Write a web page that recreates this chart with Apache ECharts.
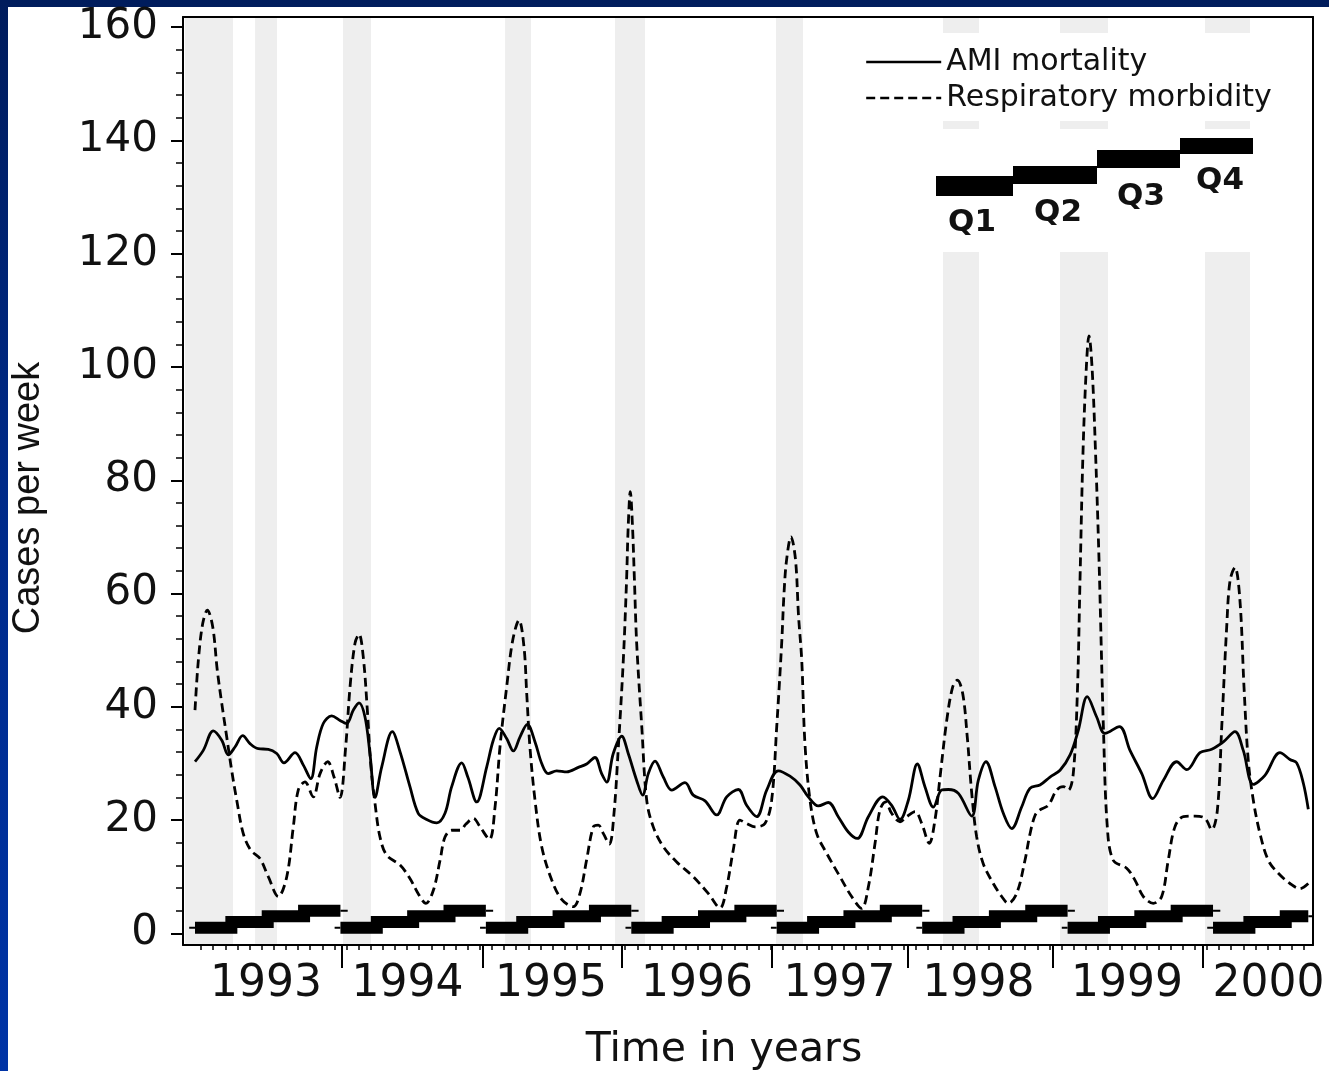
<!DOCTYPE html>
<html>
<head>
<meta charset="utf-8">
<script src="https://cdn.jsdelivr.net/npm/echarts@6/dist/echarts.min.js"></script>
<style>
  html, body { margin: 0; padding: 0; width: 1329px; height: 1071px; overflow: hidden;
    background: linear-gradient(180deg, #001c5c 0%, #002a88 45%, #0034a6 100%); }
  #panel { position: absolute; left: 8px; top: 7px; right: 0; bottom: 0; background: #ffffff; }
  #chart { position: absolute; left: 0; top: 0; width: 1329px; height: 1071px; }
</style>
</head>
<body>
<div id="panel"></div>
<div id="chart"></div>
<script>
const amiMortality = [
  [1993.000,30.3],[1993.057,32.3],[1993.126,35.75],[1993.184,34.1],[1993.229,31.5],[1993.275,32.9],
  [1993.328,34.9],[1993.378,33.5],[1993.435,32.6],[1993.504,32.5],[1993.562,31.75],[1993.612,30.1],
  [1993.688,31.9],[1993.745,29.7],[1993.796,27.3],[1993.837,32.9],[1993.882,37.05],[1993.940,38.4],
  [1993.997,37.6],[1994.043,37.05],[1994.088,39.4],[1994.128,40.7],[1994.169,38.2],[1994.203,31.75],
  [1994.238,24.0],[1994.284,29.4],[1994.357,35.6],[1994.410,32.05],[1994.478,25.9],[1994.535,21.2],
  [1994.593,20.1],[1994.662,19.5],[1994.719,21.2],[1994.765,25.9],[1994.834,30.1],[1994.877,27.5],
  [1994.937,23.2],[1995.006,29.4],[1995.051,34.1],[1995.092,36.2],[1995.143,34.4],[1995.189,32.2],
  [1995.235,34.7],[1995.285,36.9],[1995.338,33.8],[1995.384,30.0],[1995.429,28.2],[1995.487,28.7],
  [1995.556,28.5],[1995.636,29.3],[1995.693,29.9],[1995.750,31.05],[1995.796,28.2],[1995.831,26.7],
  [1995.876,31.75],[1995.934,34.8],[1995.979,31.75],[1996.037,27.0],[1996.078,24.4],[1996.117,28.2],
  [1996.163,30.4],[1996.220,27.6],[1996.278,25.3],[1996.369,26.6],[1996.426,24.4],[1996.507,23.4],
  [1996.587,20.9],[1996.656,24.1],[1996.736,25.4],[1996.793,22.6],[1996.862,20.6],[1996.931,25.3],
  [1997.011,28.7],[1997.091,27.75],[1997.160,26.2],[1997.217,24.1],[1997.286,22.5],[1997.355,23.1],
  [1997.423,20.6],[1997.492,17.9],[1997.554,16.75],[1997.630,20.6],[1997.729,24.1],[1997.790,22.6],
  [1997.848,20.1],[1997.905,23.5],[1997.967,29.9],[1998.019,25.9],[1998.077,22.3],[1998.134,25.3],
  [1998.180,25.4],[1998.249,24.7],[1998.341,20.7],[1998.386,27.0],[1998.439,30.3],[1998.501,25.9],
  [1998.558,21.2],[1998.616,18.5],[1998.684,22.3],[1998.741,25.6],[1998.810,26.2],[1998.879,27.6],
  [1998.948,28.8],[1999.017,31.5],[1999.074,35.9],[1999.135,41.8],[1999.200,38.2],[1999.257,35.3],
  [1999.356,36.5],[1999.429,32.3],[1999.510,28.2],[1999.585,23.8],[1999.658,27.0],[1999.750,30.3],
  [1999.819,28.9],[1999.910,31.9],[1999.991,32.5],[2000.071,33.8],[2000.151,35.6],[2000.208,32.3],
  [2000.277,26.3],[2000.357,27.9],[2000.460,31.9],[2000.529,30.7],[2000.575,30.1],[2000.621,26.5],
  [2000.655,21.9]
];

const respiratoryMorbidity = [
  [1993.000,39.4],[1993.023,48.2],[1993.053,54.7],[1993.085,57.05],[1993.122,54.1],[1993.153,46.5],
  [1993.184,40.6],[1993.218,34.7],[1993.252,28.8],[1993.287,23.5],[1993.332,17.6],[1993.383,14.7],
  [1993.447,13.2],[1993.504,10.0],[1993.573,6.5],[1993.631,10.0],[1993.676,18.8],[1993.710,25.3],
  [1993.756,26.75],[1993.813,24.1],[1993.860,28.2],[1993.912,30.3],[1993.956,27.6],[1993.997,24.0],
  [1994.036,32.9],[1994.066,43.5],[1994.100,51.2],[1994.128,52.8],[1994.157,48.8],[1994.185,39.4],
  [1994.210,29.4],[1994.238,22.9],[1994.272,17.0],[1994.318,13.8],[1994.410,12.05],[1994.478,9.7],
  [1994.535,7.0],[1994.588,5.3],[1994.639,7.6],[1994.685,12.9],[1994.719,17.0],[1994.765,18.2],
  [1994.822,18.2],[1994.863,19.3],[1994.914,20.3],[1994.960,18.8],[1995.024,16.6],[1995.063,22.3],
  [1995.097,32.9],[1995.143,43.5],[1995.185,51.8],[1995.228,55.3],[1995.262,50.6],[1995.281,42.3],
  [1995.303,32.9],[1995.338,23.5],[1995.384,15.3],[1995.453,9.4],[1995.521,6.0],[1995.601,4.7],
  [1995.647,7.05],[1995.693,13.0],[1995.739,18.8],[1995.773,19.1],[1995.808,17.6],[1995.849,15.75],
  [1995.881,21.2],[1995.911,32.9],[1995.945,48.2],[1995.967,62],[1995.979,72],[1995.993,78],
  [1996.008,72],[1996.022,62],[1996.037,51.2],[1996.072,36.5],[1996.106,23.5],[1996.151,18.8],
  [1996.220,15.3],[1996.312,12.6],[1996.426,10.0],[1996.529,7.05],[1996.610,4.5],[1996.656,8.2],
  [1996.701,14.7],[1996.747,20.0],[1996.793,19.4],[1996.851,18.8],[1996.919,19.4],[1996.965,23.5],
  [1997.000,36.5],[1997.034,51.2],[1997.050,60],[1997.068,66],[1997.098,70],[1997.129,66],
  [1997.150,56],[1997.172,48.2],[1997.194,33.5],[1997.229,23.5],[1997.275,17.6],[1997.344,14.1],
  [1997.435,10.0],[1997.515,6.5],[1997.584,4.4],[1997.630,8.2],[1997.676,15.9],[1997.710,21.8],
  [1997.749,23.2],[1997.790,21.2],[1997.848,19.7],[1997.894,20.6],[1997.951,21.5],[1997.997,19.4],
  [1998.049,15.9],[1998.088,20.0],[1998.123,27.6],[1998.169,37.6],[1998.210,43.5],[1998.242,44.7],
  [1998.279,42.3],[1998.310,34.7],[1998.341,24.7],[1998.375,17.0],[1998.420,12.3],[1998.489,8.8],
  [1998.547,6.5],[1998.592,5.3],[1998.650,7.05],[1998.707,12.9],[1998.741,17.5],[1998.776,20.8],
  [1998.810,21.8],[1998.867,22.6],[1998.925,25.3],[1998.971,25.9],[1999.005,25.3],[1999.039,28.2],
  [1999.067,42.3],[1999.085,62],[1999.106,85],[1999.129,100],[1999.147,105.5],[1999.168,100],
  [1999.192,85],[1999.216,66],[1999.232,50],[1999.246,36.5],[1999.273,18.8],[1999.314,12.9],
  [1999.406,11.5],[1999.463,9.4],[1999.521,6.5],[1999.589,5.3],[1999.647,6.5],[1999.692,12.9],
  [1999.738,18.8],[1999.796,20.6],[1999.876,20.7],[1999.945,20.3],[1999.991,18.3],[2000.030,21.8],
  [2000.060,36.5],[2000.094,54.1],[2000.117,62.3],[2000.151,64.6],[2000.185,58.8],[2000.213,43.5],
  [2000.242,30.6],[2000.277,23.5],[2000.323,17.6],[2000.380,12.9],[2000.449,10.6],[2000.529,8.8],
  [2000.598,7.9],[2000.655,8.8]
];

// Shaded epidemic periods (start, end) in decimal years
const epidemicPeriods = [
  [1992.931,1993.261],[1993.413,1993.564],[1994.018,1994.210],[1995.132,1995.310],
  [1995.888,1996.094],[1996.995,1997.181],[1998.143,1998.391],[1998.948,1999.278],
  [1999.945,2000.254]
];

// Quarter indicator: level 1..4 for Q1..Q4 of each year
const quarterLevels = [1, 2, 3, 4];
const quarterNames = ['Q1', 'Q2', 'Q3', 'Q4'];
const quarterYears = [1993, 1994, 1995, 1996, 1997, 1998, 1999, 2000];
const seriesEnd = 2000.655;

// Axis ticks and labels
const yTickValues = [0, 20, 40, 60, 80, 100, 120, 140, 160];
const yearDividers = [1994.011, 1994.980, 1995.936, 1996.964, 1997.903, 1998.900, 1999.931];
const yearLabels = ['1993', '1994', '1995', '1996', '1997', '1998', '1999', '2000'];
const yearLabelPos = [1993.488, 1994.461, 1995.448, 1996.452, 1997.432, 1998.387, 1999.408, 2000.381];

const X_MIN = 1992.9175, X_MAX = 2000.6874;
const Y_MIN = -2.06, Y_MAX = 161.8;

const FONT = "'DejaVu Sans', sans-serif";
const INK = '#111111';

// step-line points for the quarter indicator, one broken run per year
const quarterBars = [];
const quarterTails = [];
quarterYears.forEach(function (y) {
  const end = Math.min(y + 1, seriesEnd);
  quarterLevels.forEach(function (q, i) {
    const s = y + i / 4;
    if (s < end) quarterBars.push([s, q]);
  });
  const lastQ = quarterLevels[Math.min(3, Math.floor((end - y - 1e-9) * 4))];
  quarterBars.push([end, lastQ]);
  quarterBars.push([end, '-']);
  quarterTails.push([y - 0.04, quarterLevels[0]], [y, quarterLevels[0]], [y, '-']);
  quarterTails.push([end, lastQ], [end + 0.05, lastQ], [end + 0.05, '-']);
});

// monthly minor ticks on the time axis
const monthTicks = [];
for (let y = 1993; y <= 2000; y++) {
  for (let m = 0; m < 12; m++) {
    const t = y + (m + 0.5) / 12;
    if (t < X_MAX - 0.01) monthTicks.push(t);
  }
}
const yMinorTicks = [];
for (let v = 0; v <= 160; v += 4) yMinorTicks.push(v);

// key explaining the quarter staircase (drawn above the shading)
const keyBlocks = [
  { x: 936, y: 176, w: 77, h: 20 },
  { x: 1013, y: 166, w: 84, h: 18 },
  { x: 1097, y: 150, w: 83, h: 18 },
  { x: 1180, y: 138, w: 73, h: 16 }
];
const keyText = [
  { x: 972, y: 223 }, { x: 1058, y: 213 }, { x: 1141, y: 197 }, { x: 1220, y: 181 }
];
const keyGraphics = [
  { type: 'rect', z: 20, silent: true, shape: { x: 852, y: 129, width: 458, height: 123 }, style: { fill: '#ffffff' } }
];
keyBlocks.forEach(function (b) {
  keyGraphics.push({ type: 'rect', z: 21, silent: true, shape: { x: b.x, y: b.y, width: b.w, height: b.h }, style: { fill: '#000' } });
});
keyText.forEach(function (p, i) {
  keyGraphics.push({ type: 'text', z: 21, silent: true, x: p.x, y: p.y,
    style: { text: quarterNames[i], font: "bold 31px 'DejaVu Sans', sans-serif", fill: INK, align: 'center', verticalAlign: 'middle' } });
});

const chart = echarts.init(document.getElementById('chart'), null, { renderer: 'canvas' });

const option = {
  backgroundColor: 'transparent',
  animation: false,
  grid: { left: 183, right: 16, top: 17, bottom: 126, containLabel: false },
  legend: {
    data: ['AMI mortality', 'Respiratory morbidity'],
    orient: 'vertical',
    left: 852,
    top: 33,
    padding: [14, 30, 8, 13],
    backgroundColor: '#ffffff',
    itemWidth: 75,
    itemHeight: 14,
    itemGap: 6,
    selectedMode: false,
    itemStyle: { opacity: 0 },
    lineStyle: { width: 2.4 },
    textStyle: { fontFamily: FONT, fontSize: 30, color: INK },
    z: 6
  },
  xAxis: [
    {
      type: 'value', min: X_MIN, max: X_MAX, position: 'bottom', z: 5,
      axisLine: { show: true, onZero: false, lineStyle: { color: '#000', width: 2 } },
      axisTick: { show: true, customValues: yearDividers, length: 23, lineStyle: { color: '#000', width: 2 } },
      axisLabel: {
        show: true, customValues: yearLabelPos, margin: 18,
        fontFamily: FONT, fontSize: 44, color: INK,
        formatter: function (v) {
          let best = 0;
          yearLabelPos.forEach(function (p, i) { if (Math.abs(p - v) < Math.abs(yearLabelPos[best] - v)) best = i; });
          return yearLabels[best];
        }
      },
      splitLine: { show: false }
    },
    {
      type: 'value', min: X_MIN, max: X_MAX, position: 'bottom', z: 5,
      axisLine: { show: false, onZero: false },
      axisTick: { show: true, customValues: monthTicks, length: 5, lineStyle: { color: '#000', width: 1.5 } },
      axisLabel: { show: false },
      splitLine: { show: false }
    },
    {
      type: 'value', min: X_MIN, max: X_MAX, position: 'top', z: 5,
      axisLine: { show: true, onZero: false, lineStyle: { color: '#000', width: 2 } },
      axisTick: { show: false }, axisLabel: { show: false }, splitLine: { show: false }
    }
  ],
  yAxis: [
    {
      type: 'value', min: Y_MIN, max: Y_MAX, position: 'left', z: 5,
      axisLine: { show: true, onZero: false, lineStyle: { color: '#000', width: 2 } },
      axisTick: { show: true, customValues: yTickValues, length: 12, lineStyle: { color: '#000', width: 2 } },
      axisLabel: { show: true, customValues: yTickValues, margin: 25, fontFamily: FONT, fontSize: 42, color: INK },
      splitLine: { show: false }
    },
    {
      type: 'value', min: Y_MIN, max: Y_MAX, position: 'left', z: 5,
      axisLine: { show: false, onZero: false },
      axisTick: { show: true, customValues: yMinorTicks, length: 7, lineStyle: { color: '#000', width: 1.5 } },
      axisLabel: { show: false }, splitLine: { show: false }
    },
    {
      type: 'value', min: Y_MIN, max: Y_MAX, position: 'right', z: 5,
      axisLine: { show: true, onZero: false, lineStyle: { color: '#000', width: 2 } },
      axisTick: { show: false }, axisLabel: { show: false }, splitLine: { show: false }
    }
  ],
  series: [
    {
      name: 'epidemics', type: 'line', data: [], z: 1, silent: true,
      markArea: {
        silent: true,
        itemStyle: { color: '#eeeeee' },
        data: epidemicPeriods.map(function (p) { return [{ xAxis: p[0] }, { xAxis: p[1] }]; })
      }
    },
    {
      name: 'Respiratory morbidity', type: 'line', data: respiratoryMorbidity, z: 3,
      smooth: 0.35, showSymbol: false, symbol: 'none',
      lineStyle: { color: '#000', width: 2.8, type: [9, 5] },
      itemStyle: { color: '#000' }
    },
    {
      name: 'AMI mortality', type: 'line', data: amiMortality, z: 3,
      smooth: 0.35, showSymbol: false, symbol: 'none',
      lineStyle: { color: '#000', width: 2.8, type: 'solid' },
      itemStyle: { color: '#000' }
    },
    {
      name: 'quarters', type: 'line', data: quarterBars, z: 3,
      step: 'end', showSymbol: false, symbol: 'none', connectNulls: false,
      lineStyle: { color: '#000', width: 12, cap: 'butt', join: 'miter' }
    },
    {
      name: 'quarterTails', type: 'line', data: quarterTails, z: 3,
      showSymbol: false, symbol: 'none', connectNulls: false,
      lineStyle: { color: '#000', width: 2 }
    }
  ],
  graphic: keyGraphics.concat([
    {
      type: 'text', z: 20, silent: true, x: 29, y: 498, rotation: Math.PI / 2,
      style: { text: 'Cases per week', font: "38px 'Liberation Sans', Arial, sans-serif", fill: INK, align: 'center', verticalAlign: 'middle' }
    },
    {
      type: 'text', z: 20, silent: true, x: 724, y: 1050,
      style: { text: 'Time in years', font: "41px 'DejaVu Sans', sans-serif", fill: INK, align: 'center', verticalAlign: 'middle' }
    }
  ])
};

chart.setOption(option);
</script>
</body>
</html>
